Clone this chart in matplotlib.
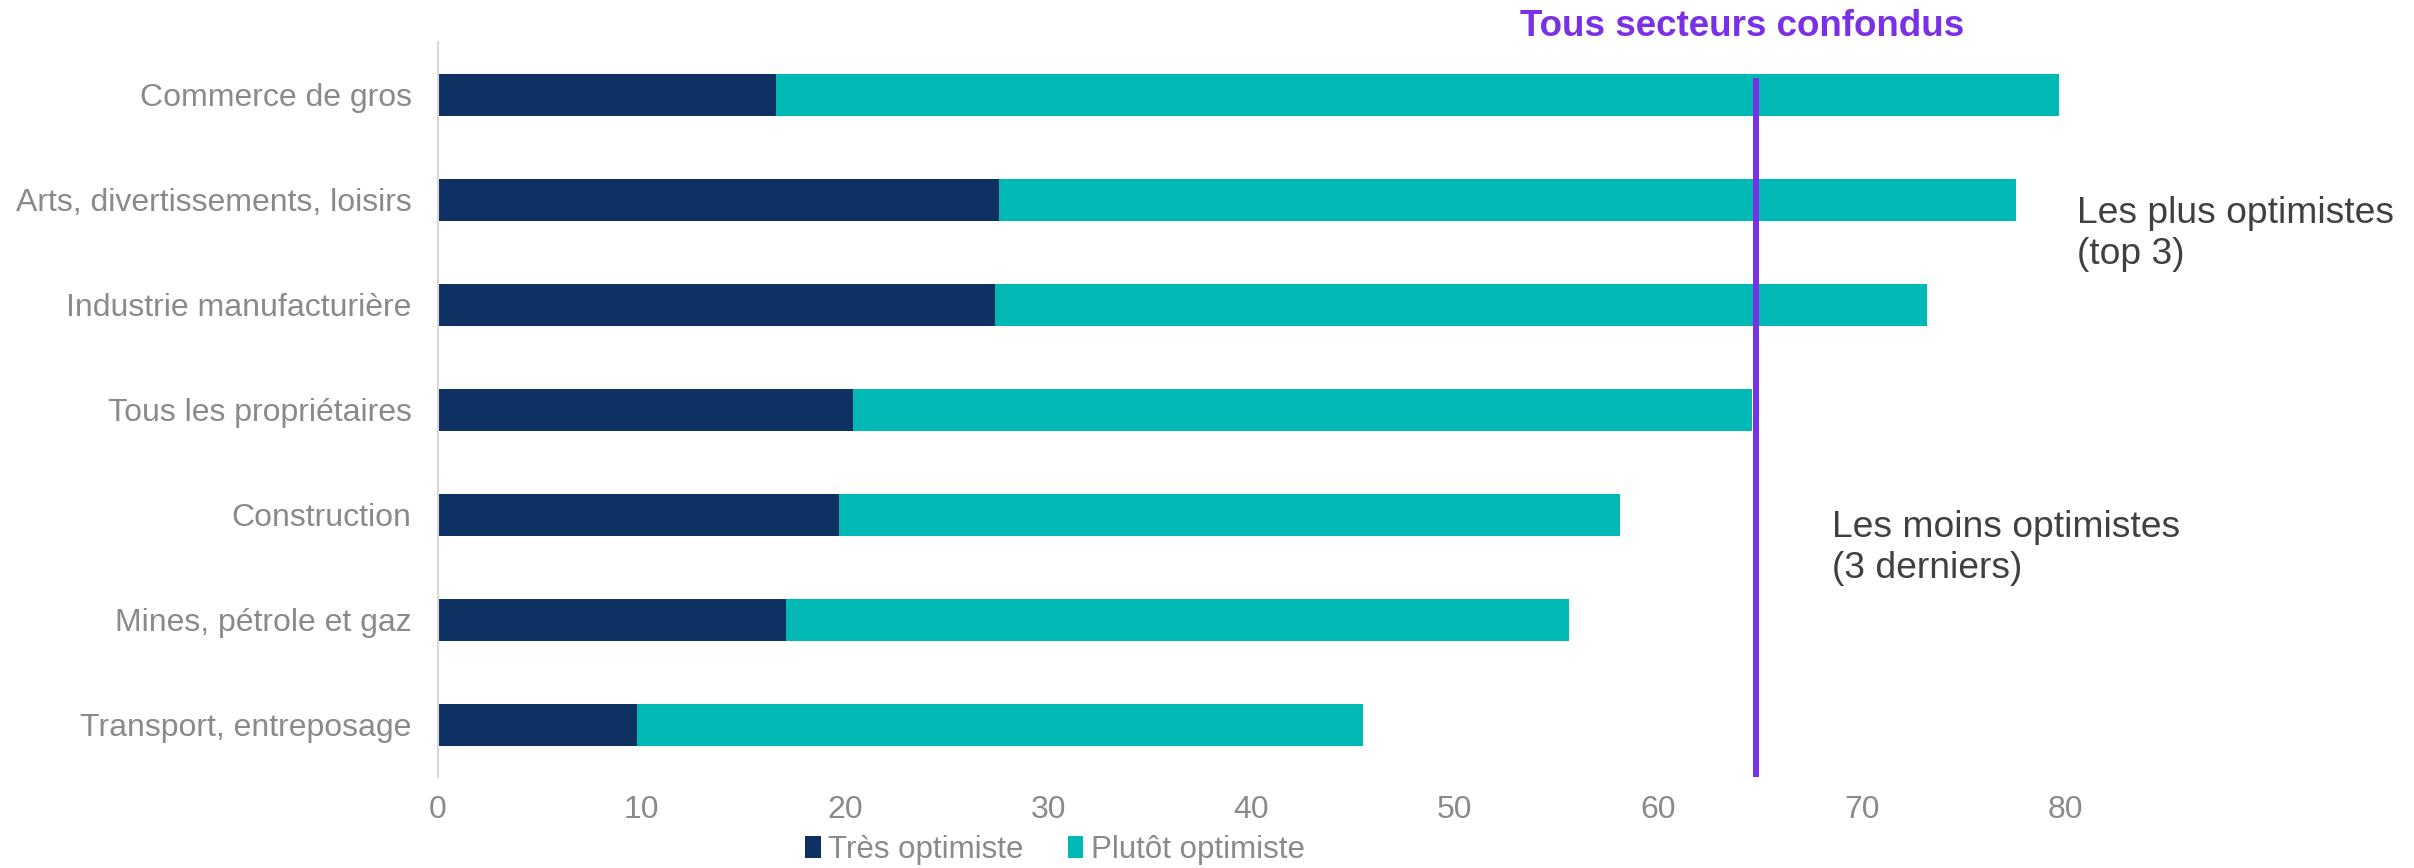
import matplotlib
matplotlib.use("Agg")
import matplotlib.pyplot as plt
from matplotlib.patches import Patch

plt.rcParams['font.family'] = ['Liberation Sans', 'DejaVu Sans']

categories = ["Commerce de gros", "Arts, divertissements, loisirs", "Industrie manufacturière",
              "Tous les propriétaires", "Construction", "Mines, pétrole et gaz",
              "Transport, entreposage"]
tres = [16.6, 27.6, 27.4, 20.4, 19.7, 17.1, 9.8]
total = [79.7, 77.6, 73.2, 64.6, 58.1, 55.6, 45.5]
plutot = [t - a for t, a in zip(total, tres)]
overall = 64.8
series_names = ["Très optimiste", "Plutôt optimiste"]
xticks = [0, 10, 20, 30, 40, 50, 60, 70, 80]

c_dark = "#0E3164"
c_teal = "#00B9B4"
c_purple = "#7A30E6"
c_gray = "#8A8A8A"
c_text = "#404040"

W, H = 2414, 868
fig = plt.figure(figsize=(W / 100, H / 100), dpi=100)
ax = fig.add_axes([438 / W, 91 / H, 1627 / W, 735 / H])

y = list(range(len(categories)))
ax.barh(y, tres, height=0.4, color=c_dark, edgecolor="none")
ax.barh(y, plutot, left=tres, height=0.4, color=c_teal, edgecolor="none")

ax.set_ylim(6.5, -0.5)
ax.set_xlim(0, 80)
ax.vlines(overall, 6.5, -0.16, color=c_purple, linewidth=4.3, clip_on=False, zorder=5)

ax.set_yticks(y)
ax.set_yticklabels(categories)
ax.set_xticks(xticks)
ax.tick_params(axis="y", length=0, pad=19, labelsize=23, labelcolor=c_gray)
ax.tick_params(axis="x", length=0, pad=13, labelsize=23, labelcolor=c_gray)
for s in ["top", "right", "bottom"]:
    ax.spines[s].set_visible(False)
ax.spines["left"].set_color("#D9D9D9")
ax.spines["left"].set_linewidth(1.5)

fig.text(1742 / W, 1 - 26 / H, "Tous secteurs confondus", color=c_purple, fontsize=26.5,
         fontweight="bold", ha="center", va="center")
fig.text(2077 / W, 1 - 234 / H, "Les plus optimistes\n(top 3)", color=c_text, fontsize=26.8,
         ha="left", va="center", linespacing=1.2)
fig.text(1832 / W, 1 - 548 / H, "Les moins optimistes\n(3 derniers)", color=c_text, fontsize=26.8,
         ha="left", va="center", linespacing=1.2)

handles = [Patch(facecolor=c_dark, edgecolor="none"), Patch(facecolor=c_teal, edgecolor="none")]
leg = fig.legend(handles, series_names, loc="center", bbox_to_anchor=(1055 / W, 18 / H),
                 ncol=2, frameon=False, fontsize=22.5, handlelength=0.5, handleheight=0.7,
                 handletextpad=0.25, columnspacing=1.4, borderpad=0, borderaxespad=0)
for t in leg.get_texts():
    t.set_color(c_gray)

fig.savefig("out.png", dpi=100)
